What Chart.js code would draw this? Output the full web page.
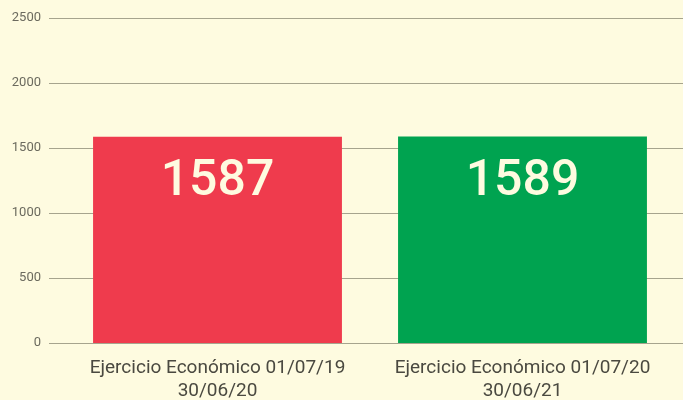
<!DOCTYPE html>
<html>
<head>
<meta charset="utf-8">
<script src="https://cdn.jsdelivr.net/npm/chart.js@4"></script>
<style>
  html, body { margin: 0; padding: 0; background: #fefbe0; }
  #wrap { width: 683px; height: 400px; }
</style>
</head>
<body>
<div id="wrap"><canvas id="chart" width="683" height="400"></canvas></div>
<script>
// Socios por ejercicio
const categories = [
  ['Ejercicio Económico 01/07/19', '30/06/20'],
  ['Ejercicio Económico 01/07/20', '30/06/21']
];
const values = [1587, 1589];
const barColors = ['#ef3b4d', '#00a350'];
const yTicks = [0, 500, 1000, 1500, 2000, 2500];

// horizontal lines behind the bars, running past the axis to the edge
const gridLines = {
  id: 'gridLines',
  beforeDatasetsDraw(chart) {
    const { ctx, scales: { y } } = chart;
    ctx.save();
    ctx.strokeStyle = '#a6a48e';
    ctx.lineWidth = 1;
    yTicks.forEach(v => {
      const py = Math.round(y.getPixelForValue(v)) + 0.5;
      ctx.beginPath();
      ctx.moveTo(49, py);
      ctx.lineTo(chart.width, py);
      ctx.stroke();
    });
    ctx.restore();
  }
};

// big value inside each bar
const barValues = {
  id: 'barValues',
  afterDatasetsDraw(chart) {
    const { ctx } = chart;
    const meta = chart.getDatasetMeta(0);
    ctx.save();
    ctx.fillStyle = '#fefbe0';
    ctx.font = '500 50px Roboto';
    ctx.textAlign = 'center';
    ctx.textBaseline = 'middle';
    meta.data.forEach((bar, i) => {
      ctx.fillText(String(values[i]), bar.x, bar.y + 46);
    });
    ctx.restore();
  }
};

new Chart(document.getElementById('chart'), {
  type: 'bar',
  data: {
    labels: categories,
    datasets: [{
      data: values,
      backgroundColor: barColors,
      borderWidth: 0
    }]
  },
  options: {
    responsive: false,
    animation: false,
    layout: { padding: { top: 18, right: 8, left: 0, bottom: 0 } },
    plugins: { legend: { display: false }, tooltip: { enabled: false } },
    categoryPercentage: 1,
    barPercentage: 0.816,
    scales: {
      x: {
        grid: { display: false, drawTicks: false },
        border: { display: false },
        ticks: {
          color: '#4a4940',
          font: { family: 'Roboto', size: 19 },
          padding: 14,
          maxRotation: 0
        },
        afterFit(scale) { scale.height = 57; }
      },
      y: {
        min: 0,
        max: 2500,
        afterBuildTicks(scale) { scale.ticks = yTicks.map(v => ({ value: v })); },
        grid: { display: false, drawTicks: false },
        border: { display: false },
        ticks: {
          color: '#6b6a5e',
          font: { family: 'Roboto', size: 13 },
          padding: 24,
          callback: v => String(v)
        },
        afterFit(scale) {
          scale.width = 65;
          // the label padding is horizontal here, not vertical
          scale.paddingTop = 0;
          scale.paddingBottom = 0;
        }
      }
    }
  },
  plugins: [gridLines, barValues]
});
</script>
</body>
</html>
